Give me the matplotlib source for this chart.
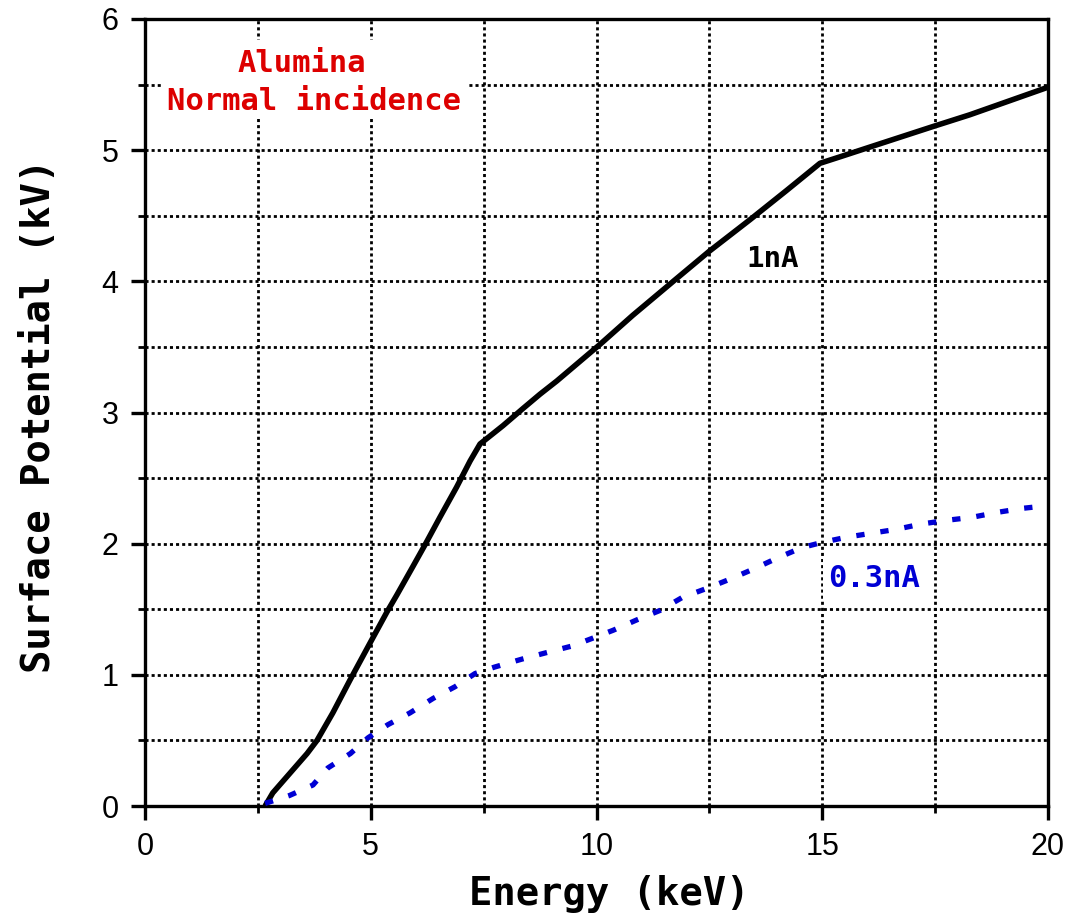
import matplotlib
matplotlib.use("Agg")
import matplotlib.pyplot as plt
from matplotlib.ticker import MultipleLocator
from matplotlib.patches import Rectangle

# Surface potential of alumina under normal-incidence electron beam
energy_1nA = [2.66, 2.83, 3.21, 3.59, 3.81, 4.16, 4.54, 4.98, 5.36, 5.58, 5.94,
              6.2, 6.53, 6.9, 7.2, 7.42, 7.93, 8.37, 8.75, 9.12, 10.08, 10.8,
              11.7, 12.5, 13.4, 14.2, 14.95, 15.4, 16.2, 17.45, 18.27, 20.0]
potential_1nA = [0.0, 0.1, 0.25, 0.40, 0.5, 0.71, 0.96, 1.24, 1.48, 1.61, 1.83,
                 1.99, 2.2, 2.43, 2.63, 2.76, 2.9, 3.03, 3.14, 3.24, 3.52, 3.74,
                 4.0, 4.23, 4.47, 4.69, 4.9, 4.95, 5.04, 5.18, 5.27, 5.48]

energy_03nA = [2.66, 3.2, 3.72, 4.05, 4.55, 4.94, 5.38, 5.87, 6.38, 6.87, 7.31,
               7.75, 8.35, 8.9, 9.46, 9.92, 10.37, 10.9, 11.4, 11.9, 12.45,
               12.96, 13.5, 14.0, 14.55, 15.0, 15.55, 16.1, 16.65, 17.2, 17.8,
               18.3, 18.9, 19.45, 20.0]
potential_03nA = [0.02, 0.08, 0.16, 0.29, 0.40, 0.52, 0.62, 0.71, 0.82, 0.91, 1.01,
                  1.06, 1.12, 1.17, 1.22, 1.28, 1.34, 1.42, 1.49, 1.59, 1.66,
                  1.73, 1.81, 1.89, 1.97, 2.01, 2.05, 2.08, 2.11, 2.15, 2.18,
                  2.2, 2.24, 2.27, 2.29]

x_ticks = [0, 5, 10, 15, 20]
y_ticks = [0, 1, 2, 3, 4, 5, 6]

RED = "#dd0000"
BLUE = "#0000d4"
BOLD_MONO = "DejaVu Sans Mono"
TICK_FONT = ["Liberation Sans", "DejaVu Sans"]

plt.rcParams["lines.scale_dashes"] = False

W, H = 1074, 916
fig = plt.figure(figsize=(W / 100, H / 100), dpi=100)
ax = fig.add_axes([145 / W, 1 - 806 / H, 903 / W, 787 / H])

ax.set_xlim(0, 20)
ax.set_ylim(0, 6)

ax.set_xticks(x_ticks)
ax.set_yticks(y_ticks)
ax.xaxis.set_minor_locator(MultipleLocator(2.5))
ax.yaxis.set_minor_locator(MultipleLocator(0.5))

ax.grid(which="both", color="black", linestyle=(0, (2.2, 2.2)), linewidth=2.0)

for sp in ax.spines.values():
    sp.set_linewidth(2.4)

ax.tick_params(which="major", direction="out", length=10, width=2.4, pad=9,
               top=False, right=False)
ax.tick_params(which="minor", direction="out", length=5, width=2.0,
               top=False, right=False)
for lab in ax.get_xticklabels() + ax.get_yticklabels():
    lab.set_fontfamily(TICK_FONT)
    lab.set_fontsize(22)

# 1 nA curve (solid) and 0.3 nA curve (dashed)
ax.plot(energy_1nA, potential_1nA, color="black", linewidth=4.0,
        solid_capstyle="butt", solid_joinstyle="round", zorder=4, clip_on=False)
ax.plot(energy_03nA, potential_03nA, color=BLUE, linewidth=3.8,
        dashes=(6.0, 11.5), dash_capstyle="butt", zorder=4, clip_on=False)

# White panel behind the sample description
ax.add_patch(Rectangle(((162 - 145) / 903 * 20, (806 - 118) / 787 * 6),
                       (467 - 162) / 903 * 20, (118 - 40) / 787 * 6,
                       facecolor="white", edgecolor="none", zorder=2.2))
fig.text(302 / W, 1 - 72 / H, "Alumina", color=RED, fontsize=22,
         fontfamily=BOLD_MONO, fontweight="bold", ha="center", va="baseline",
         zorder=5)
fig.text(314 / W, 1 - 110 / H, "Normal incidence", color=RED, fontsize=22,
         fontfamily=BOLD_MONO, fontweight="bold", ha="center", va="baseline",
         zorder=5)
fig.text(773 / W, 1 - 267 / H, "1nA", color="black", fontsize=21,
         fontfamily=BOLD_MONO, fontweight="bold", ha="center", va="baseline",
         zorder=5)
fig.text(874 / W, 1 - 587 / H, "0.3nA", color=BLUE, fontsize=22,
         fontfamily=BOLD_MONO, fontweight="bold", ha="center", va="baseline",
         zorder=5,
         bbox=dict(facecolor="white", edgecolor="none", pad=4))

# Axis titles
fig.text(609 / W, 1 - 905 / H, "Energy (keV)", color="black", fontsize=28,
         fontfamily=BOLD_MONO, fontweight="bold", ha="center", va="baseline")
fig.text(50 / W, 1 - 416 / H, "Surface Potential (kV)", color="black",
         fontsize=28, fontfamily=BOLD_MONO, fontweight="bold", ha="center",
         va="baseline", rotation=90, rotation_mode="anchor")

fig.savefig("out.png", dpi=100)
